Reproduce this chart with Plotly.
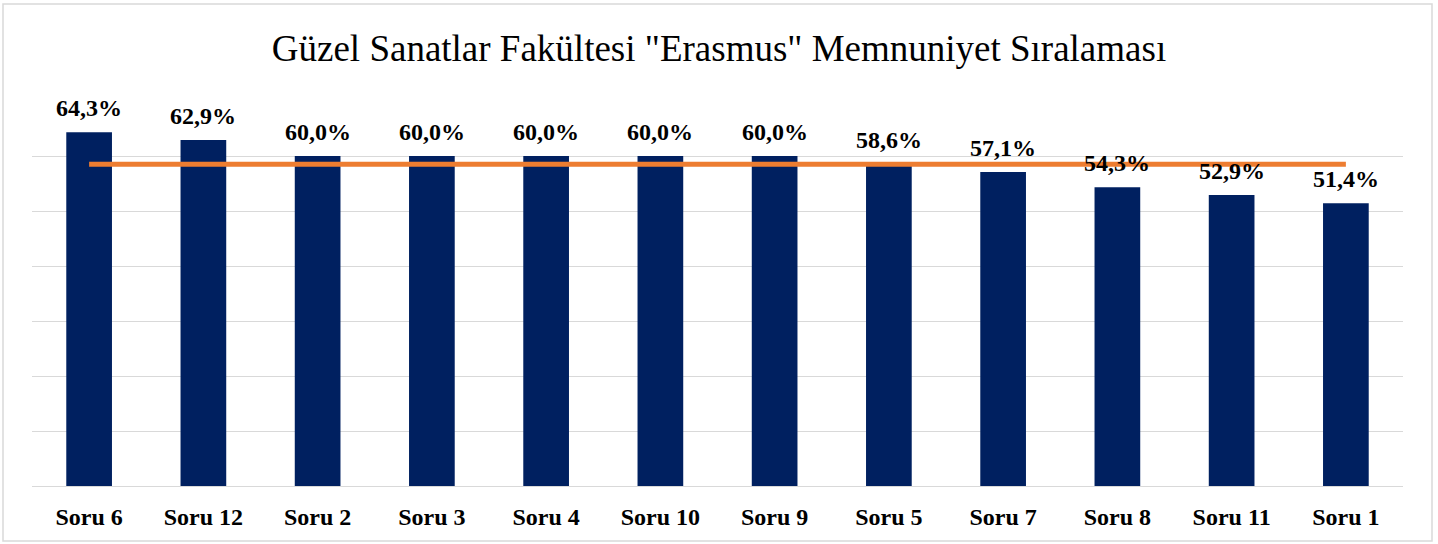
import plotly.graph_objects as go

categories = ["Soru 6", "Soru 12", "Soru 2", "Soru 3", "Soru 4", "Soru 10",
              "Soru 9", "Soru 5", "Soru 7", "Soru 8", "Soru 11", "Soru 1"]
values = [64.3, 62.9, 60.0, 60.0, 60.0, 60.0, 60.0, 58.6, 57.1, 54.3, 52.9, 51.4]
average = [58.5, 58.5, 58.5, 58.5, 58.5, 58.5, 58.5, 58.5, 58.5, 58.5, 58.5, 58.5]
labels = ["64,3%", "62,9%", "60,0%", "60,0%", "60,0%", "60,0%",
          "60,0%", "58,6%", "57,1%", "54,3%", "52,9%", "51,4%"]
y_ticks = [0, 10, 20, 30, 40, 50, 60, 70]

font_family = "Liberation Serif, Times New Roman, serif"

fig = go.Figure()
fig.add_trace(go.Bar(
    x=categories, y=values,
    marker=dict(color="#002060", line=dict(width=0)),
    showlegend=False, hoverinfo="skip",
))
fig.add_trace(go.Scatter(
    x=categories, y=average, mode="lines",
    line=dict(color="#ED7D31", width=5),
    showlegend=False, hoverinfo="skip",
))

annotations = [
    dict(x=c, y=v, text=t, showarrow=False, xref="x", yref="y",
         yanchor="middle", yshift=24,
         font=dict(family=font_family, size=24, color="#000000", weight="bold"))
    for c, v, t in zip(categories, values, labels)
]

fig.update_layout(
    width=1438, height=544,
    margin=dict(l=32, r=35, t=101, b=58),
    paper_bgcolor="white", plot_bgcolor="white",
    bargap=0.6,
    title=dict(text='Güzel Sanatlar Fakültesi "Erasmus" Memnuniyet Sıralaması',
               x=0.5, xanchor="center", y=1 - 48 / 544, yanchor="middle",
               font=dict(family=font_family, size=37, color="#000000")),
    xaxis=dict(showgrid=False, showline=False, ticks="",
               tickfont=dict(family=font_family, size=24, color="#000000", weight="bold"),
               ticklabelstandoff=14, fixedrange=True),
    yaxis=dict(range=[0, 70], tickvals=y_ticks, showticklabels=False,
               showgrid=True, gridcolor="#d9d9d9", gridwidth=1,
               zeroline=True, zerolinecolor="#d9d9d9", zerolinewidth=1,
               showline=False, fixedrange=True),
    annotations=annotations,
    shapes=[dict(type="rect", xref="paper", yref="paper",
                 x0=-29 / 1371, x1=1400 / 1371, y0=-55 / 385, y1=482 / 385,
                 line=dict(color="#d9d9d9", width=1.5), fillcolor="rgba(0,0,0,0)",
                 layer="below")],
)

fig.write_html("out.html", config={"displayModeBar": False},
               post_script="document.body.style.margin='0';")
